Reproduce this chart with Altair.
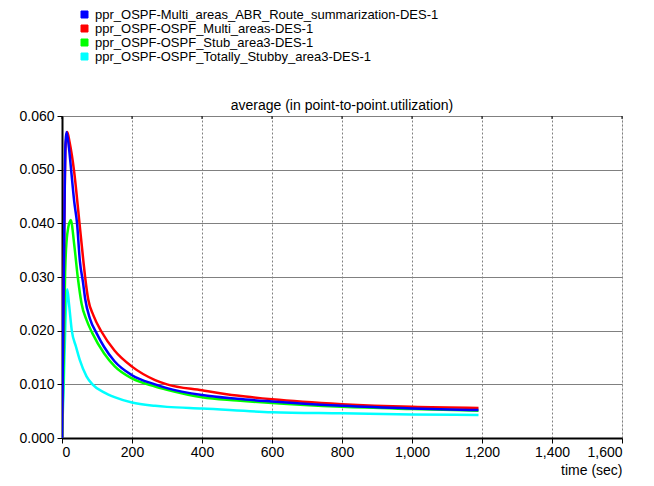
import altair as alt
import pandas as pd

series_names = [
    "ppr_OSPF-Multi_areas_ABR_Route_summarization-DES-1",
    "ppr_OSPF-OSPF_Multi_areas-DES-1",
    "ppr_OSPF-OSPF_Stub_area3-DES-1",
    "ppr_OSPF-OSPF_Totally_Stubby_area3-DES-1",
]
series_colors = ["#0000ff", "#ff0000", "#00ff00", "#00ffff"]

blue_t = [0, 5, 10, 13, 20, 26, 35, 43, 51, 60, 66, 80, 99, 120, 150, 200, 266, 300, 400, 500, 600, 800, 1000, 1190]
blue_v = [0.0, 0.030, 0.055, 0.057, 0.054, 0.050, 0.044, 0.040, 0.033, 0.029, 0.026, 0.0222, 0.0195, 0.0170, 0.0143,
          0.0117, 0.0100, 0.0093, 0.0080, 0.0073, 0.0068, 0.0060, 0.0055, 0.0052]

red_t = [0, 5, 10, 15, 22, 34, 50, 61, 66, 75, 90, 113, 150, 200, 266, 300, 400, 500, 600, 800, 1000, 1190]
red_v = [0.0, 0.030, 0.054, 0.057, 0.055, 0.050, 0.040, 0.033, 0.030, 0.0258, 0.0228, 0.0198, 0.0163, 0.0133,
         0.0108, 0.0100, 0.0089, 0.0079, 0.0072, 0.0063, 0.0058, 0.0056]

green_t = [0, 5, 9, 15, 25, 35, 45, 49, 56, 70, 87, 120, 150, 200, 266, 300, 400, 500, 600, 800, 1000, 1190]
green_v = [0.0, 0.015, 0.031, 0.038, 0.0406, 0.036, 0.030, 0.0280, 0.0250, 0.0220, 0.0195, 0.0158, 0.0134, 0.0111,
           0.0096, 0.0090, 0.0076, 0.0070, 0.0065, 0.0058, 0.0054, 0.0051]

cyan_t = [0, 5, 10, 15, 20, 28, 40, 51, 70, 87, 120, 150, 200, 266, 300, 400, 600, 800, 1000, 1190]
cyan_v = [0.0, 0.010, 0.022, 0.0277, 0.025, 0.020, 0.017, 0.0145, 0.0115, 0.0100, 0.0085, 0.0076, 0.0066,
          0.0060, 0.0058, 0.0055, 0.0048, 0.0046, 0.0044, 0.0043]

x_ticks = [0, 200, 400, 600, 800, 1000, 1200, 1400, 1600]
y_ticks = [0.0, 0.01, 0.02, 0.03, 0.04, 0.05, 0.06]

chart_title = "average (in point-to-point.utilization)"
x_title = "time (sec)"

rows = []
for name, ts, vs in zip(series_names, [blue_t, red_t, green_t, cyan_t], [blue_v, red_v, green_v, cyan_v]):
    for t, v in zip(ts, vs):
        rows.append({"series": name, "t": t, "v": v})
df = pd.DataFrame(rows)

FONT = "Liberation Sans"

x_enc = alt.X("t:Q", scale=alt.Scale(domain=[0, 1600], nice=False),
              axis=alt.Axis(values=x_ticks, format=",d", labelFont=FONT, labelFontSize=14, labelColor="black",
                            tickColor="black", tickSize=5, domainColor="black", domainWidth=2,
                            gridColor="#808080", gridDash=[2, 2], gridWidth=1, labelPadding=2,
                            title=x_title, titleFont=FONT, titleFontSize=14, titleFontWeight="normal",
                            titleColor="black", titleX=560, titleY=36, titleAlign="right",
                            titleBaseline="alphabetic"))
y_enc = alt.Y("v:Q", scale=alt.Scale(domain=[0, 0.06], nice=False),
              axis=alt.Axis(values=y_ticks, format=".3f", labelFont=FONT, labelFontSize=14, labelColor="black",
                            tickColor="black", tickSize=5, domainColor="black", domainWidth=2,
                            gridColor="#808080", gridWidth=1, labelPadding=3, title=None))
color_scale = alt.Scale(domain=series_names, range=series_colors)

legend_layer = alt.Chart(df).transform_filter(alt.datum.v < 0).mark_point(
    shape="square", filled=True, stroke="black", strokeWidth=1, opacity=1
).encode(
    x=x_enc, y=y_enc,
    color=alt.Color("series:N", scale=color_scale,
                    legend=alt.Legend(title=None, orient="none", legendX=16, legendY=-108,
                                      symbolType="square", symbolSize=49, labelFont=FONT, labelFontSize=13,
                                      labelColor="black", rowPadding=0, labelOffset=4, labelLimit=500,
                                      symbolStrokeColor="black", symbolStrokeWidth=1, symbolOpacity=1)),
)

base = alt.Chart(df).mark_line(strokeWidth=2.5, clip=True, interpolate="monotone").encode(
    x=x_enc, y=y_enc, color=alt.Color("series:N", scale=color_scale, legend=None))

draw_order = [series_names[3], series_names[2], series_names[1], series_names[0]]
layers = [base.transform_filter(alt.datum.series == n) for n in draw_order]

top_ticks = alt.Chart(pd.DataFrame({"t": x_ticks})).mark_rule(color="black", strokeWidth=1).encode(
    x="t:Q", y=alt.value(0), y2=alt.value(3))

title_layer = alt.Chart(pd.DataFrame({"label": [chart_title]})).mark_text(
    font=FONT, fontSize=14, color="black", align="center", baseline="alphabetic"
).encode(x=alt.value(280), y=alt.value(-6), text="label:N")

chart = alt.layer(legend_layer, *layers, top_ticks, title_layer).properties(
    width=560, height=322,
    padding={"left": 54, "top": 108, "right": 24, "bottom": 40},
    autosize="none",
).configure_view(stroke="black", strokeWidth=2).configure(background="white")

chart.save("out.html", embed_options={"renderer": "svg", "actions": False})
